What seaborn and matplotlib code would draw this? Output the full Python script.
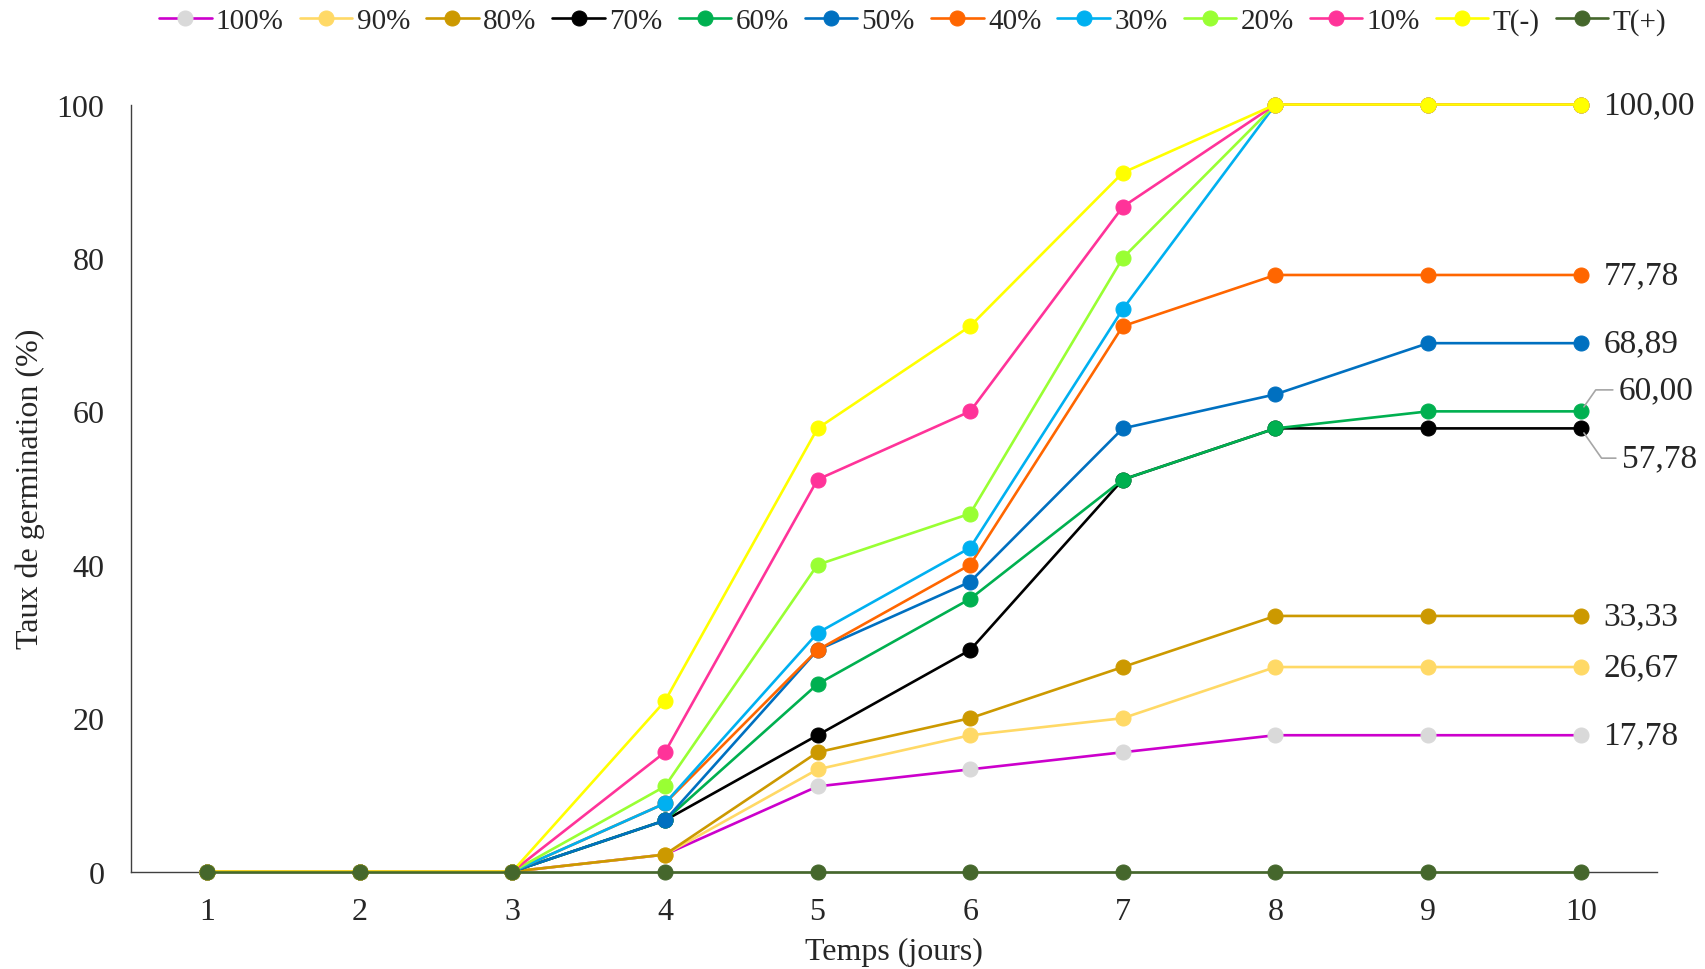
import matplotlib
matplotlib.use("Agg")
import matplotlib.pyplot as plt
import seaborn as sns

# germination rate (%) per day (45 seeds -> steps of 2.22)
days = [1, 2, 3, 4, 5, 6, 7, 8, 9, 10]
treatments = ['100%', '90%', '80%', '70%', '60%', '50%', '40%', '30%', '20%', '10%', 'T(-)', 'T(+)']

g100 = [0, 0, 0, 2.22, 11.11, 13.33, 15.56, 17.78, 17.78, 17.78]
g90 = [0, 0, 0, 2.22, 13.33, 17.78, 20.00, 26.67, 26.67, 26.67]
g80 = [0, 0, 0, 2.22, 15.56, 20.00, 26.67, 33.33, 33.33, 33.33]
g70 = [0, 0, 0, 6.67, 17.78, 28.89, 51.11, 57.78, 57.78, 57.78]
g60 = [0, 0, 0, 6.67, 24.44, 35.56, 51.11, 57.78, 60.00, 60.00]
g50 = [0, 0, 0, 6.67, 28.89, 37.78, 57.78, 62.22, 68.89, 68.89]
g40 = [0, 0, 0, 8.89, 28.89, 40.00, 71.11, 77.78, 77.78, 77.78]
g30 = [0, 0, 0, 8.89, 31.11, 42.22, 73.33, 100, 100, 100]
g20 = [0, 0, 0, 11.11, 40.00, 46.67, 80.00, 100, 100, 100]
g10 = [0, 0, 0, 15.56, 51.11, 60.00, 86.67, 100, 100, 100]
t_neg = [0, 0, 0, 22.22, 57.78, 71.11, 91.11, 100, 100, 100]
t_pos = [0, 0, 0, 0, 0, 0, 0, 0, 0, 0]

series = [g100, g90, g80, g70, g60, g50, g40, g30, g20, g10, t_neg, t_pos]

line_colors = ['#CC00CC', '#FFD966', '#CC9900', '#000000', '#00B050', '#0070C0',
               '#FF6600', '#00B0F0', '#99FF33', '#FF3399', '#FFFF00', '#45672C']
marker_colors = ['#D9D9D9', '#FFD966', '#CC9900', '#000000', '#00B050', '#0070C0',
                 '#FF6600', '#00B0F0', '#99FF33', '#FF3399', '#FFFF00', '#45672C']

# end labels at day 10
end_labels = ['100,00', '77,78', '68,89', '60,00', '57,78', '33,33', '26,67', '17,78']
end_values = [100, 77.78, 68.89, 60.00, 57.78, 33.33, 26.67, 17.78]

sns.set_style('white')
plt.rcParams['font.family'] = ['Liberation Serif', 'DejaVu Serif']
fs = 23
fs_leg = 21
fs_end = 24

fig = plt.figure(figsize=(17.06, 9.70), dpi=100)
ax = fig.add_axes([0.0766, 0.1004, 0.8947, 0.7908])

for name, vals, lc, mc in zip(treatments, series, line_colors, marker_colors):
    sns.lineplot(x=days, y=vals, ax=ax, color=lc, linewidth=1.9, marker='o',
                 markersize=10.8, markerfacecolor=mc, markeredgecolor=mc,
                 label=name, clip_on=False, zorder=3)

ax.set_xlim(0.5, 10.5)
ax.set_ylim(0, 100)
ax.set_yticks([0, 20, 40, 60, 80, 100])
ax.set_xticks(days)
ax.set_xticks([d + 0.5 for d in range(0, 11)], minor=True)
ax.tick_params(axis='x', which='major', length=0, pad=18, labelsize=fs)
ax.tick_params(axis='x', which='minor', length=7, width=1, direction='out', color='#404040')
ax.tick_params(axis='y', length=7, width=1, direction='out', pad=12, labelsize=fs, color='#404040')

for s in ['top', 'right']:
    ax.spines[s].set_visible(False)
for s in ['left', 'bottom']:
    ax.spines[s].set_color('#404040')
    ax.spines[s].set_linewidth(1.0)

ax.set_xlabel('Temps (jours)', fontsize=fs, labelpad=8)
ax.set_ylabel('Taux de germination (%)', fontsize=fs, labelpad=8)

for txt, v in zip(end_labels, end_values):
    if txt == '60,00':
        ax.annotate(txt, xy=(10, v), xytext=(10.25, 62.8), fontsize=fs_end, va='center',
                    arrowprops=dict(arrowstyle='-', color='#A6A6A6', lw=1.2,
                                    shrinkA=2, shrinkB=4,
                                    connectionstyle='angle,angleA=0,angleB=55,rad=0'))
    elif txt == '57,78':
        ax.annotate(txt, xy=(10, v), xytext=(10.27, 53.9), fontsize=fs_end, va='center',
                    arrowprops=dict(arrowstyle='-', color='#A6A6A6', lw=1.2,
                                    shrinkA=2, shrinkB=4,
                                    connectionstyle='angle,angleA=0,angleB=-55,rad=0'))
    else:
        ax.text(10.15, v, txt, fontsize=fs_end, va='center', ha='left')

ax.legend(loc='center', bbox_to_anchor=(0.535, 0.977), bbox_transform=fig.transFigure,
          ncol=12, frameon=False, fontsize=fs_leg, handlelength=1.8, handletextpad=0.15,
          columnspacing=0.55, borderaxespad=0)

fig.savefig('out.png', dpi=100)
